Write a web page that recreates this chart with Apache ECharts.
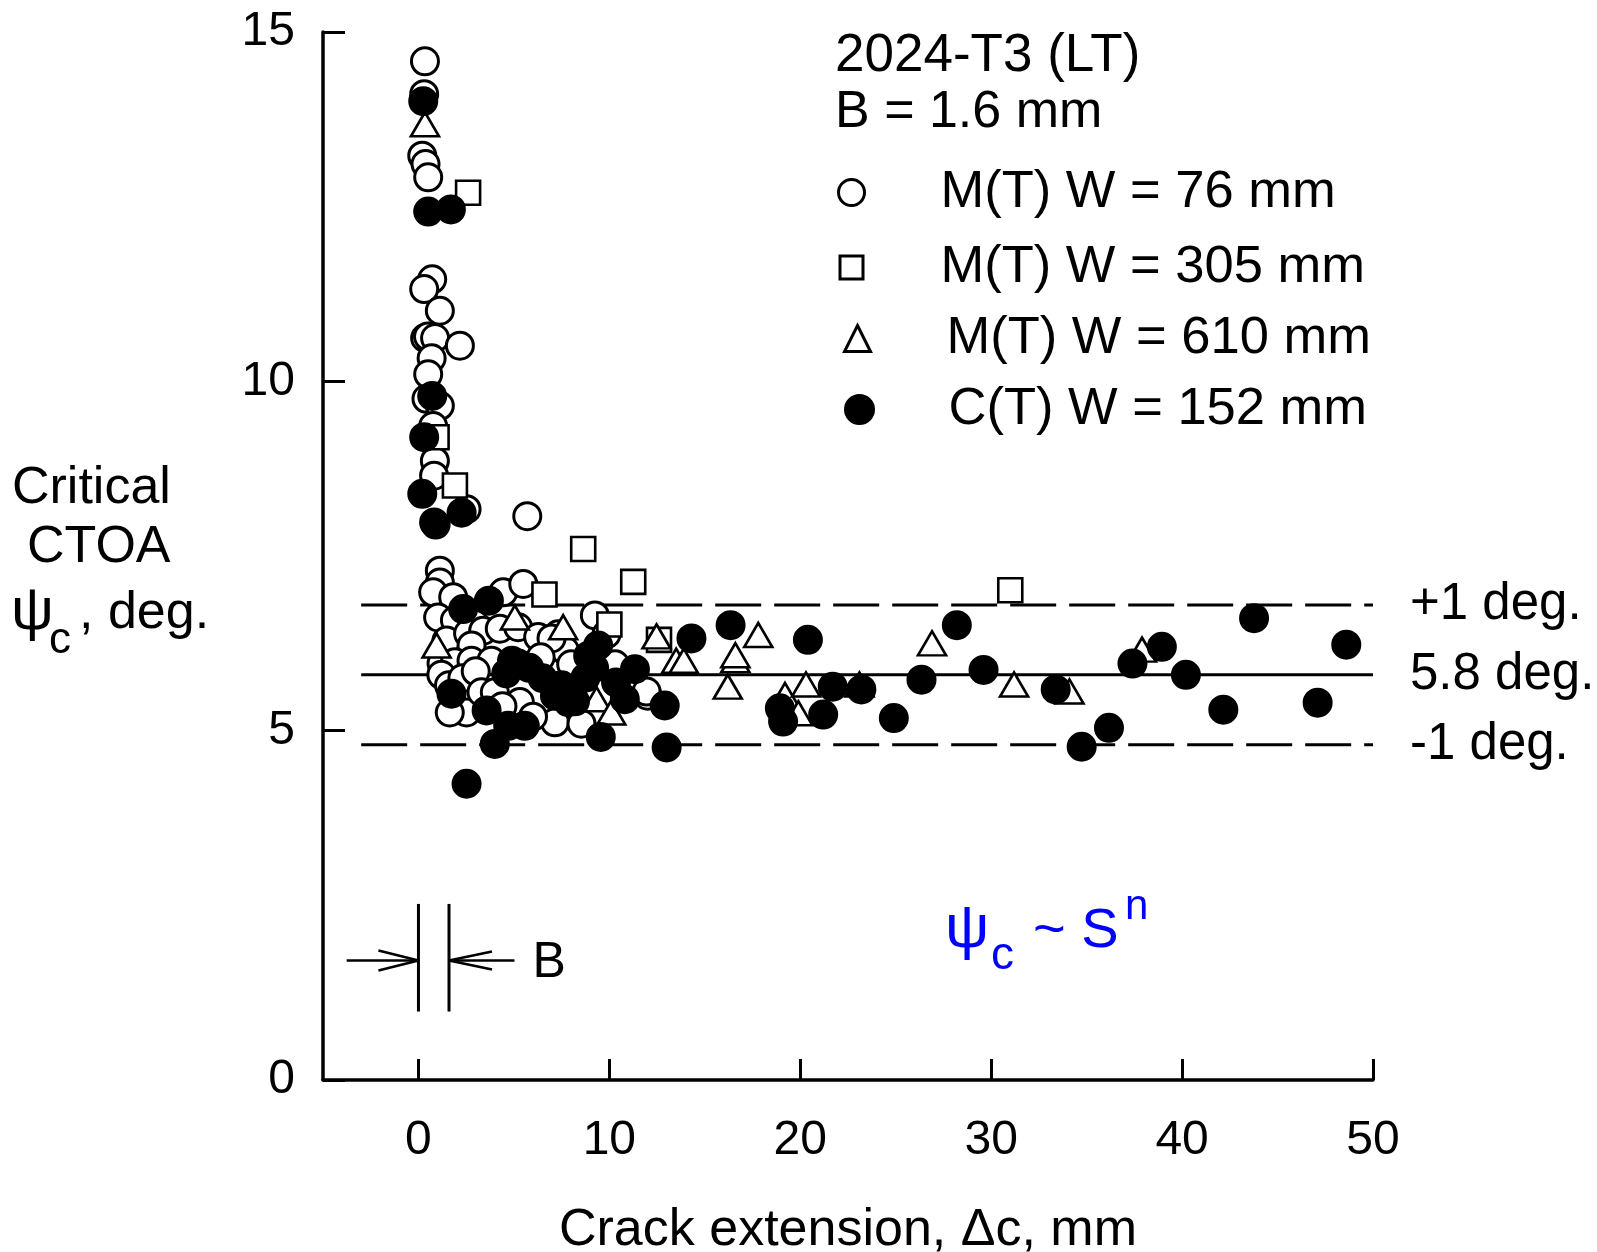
<!DOCTYPE html>
<html>
<head>
<meta charset="utf-8">
<script src="https://cdn.jsdelivr.net/npm/echarts@6/dist/echarts.min.js"></script>
<style>
  html, body { margin: 0; padding: 0; background: #fff; }
  #chart { width: 1597px; height: 1252px; }
</style>
</head>
<body>
<div id="chart"></div>
<script>
const FONT = '"Liberation Sans", Arial, sans-serif'

// [crack extension mm, critical CTOA deg]
const mt76 = [
  [0.34,14.58],[0.30,14.11],[0.20,13.23],[0.37,13.11],[0.51,12.92],
  [0.72,11.46],[0.30,11.32],[1.12,11.01],[0.35,10.62],[0.50,10.64],[0.87,10.62],[2.17,10.51],
  [0.69,10.33],[0.51,10.10],[0.42,9.75],[1.12,9.65],[0.77,9.36],[0.86,8.86],[0.82,8.65],
  [2.52,8.17],[0.90,7.95],[5.70,8.07],
  [1.12,7.29],[1.12,7.12],[0.77,6.98],[1.82,6.91],[4.44,6.98],[5.49,7.10],[1.03,6.62],[1.91,6.58],
  [2.95,6.53],[1.47,6.29],[2.60,6.39],[3.39,6.43],[4.26,6.46],[5.22,6.48],[6.27,6.34],[2.78,6.22],
  [1.21,5.96],[1.91,5.98],[2.78,6.00],[3.82,6.00],[9.24,6.65],[7.32,6.38],[7.67,6.15],[9.85,6.38],
  [6.97,6.32],[2.52,5.26],[1.64,5.26],[5.31,5.41],[7.15,5.12],[8.54,5.10],[12.00,5.50],[1.20,5.80],
  [1.60,5.65],[2.30,5.75],[3.00,5.85],[3.30,5.55],[4.00,5.55],[4.40,5.35],[6.40,6.05],[8.00,5.95],
  [10.30,5.95],[11.95,5.56],[6.00,5.20]
]
const mt305 = [
  [2.60,12.70],[0.95,9.20],[1.91,8.51],[8.63,7.60],[11.25,7.13],[6.60,6.95],[10.00,6.52],
  [12.60,6.30],[31.00,7.01]
]
const mt610 = [
  [0.34,13.68],[5.05,6.62],[0.95,6.22],[7.58,6.48],[12.47,6.35],[13.50,6.00],[13.90,6.00],
  [16.60,6.01],[16.60,6.08],[17.80,6.37],[16.20,5.63],[9.33,5.45],[10.10,5.26],[19.20,5.51],
  [19.90,5.25],[20.30,5.66],[23.10,5.66],[26.90,6.25],[31.20,5.66],[34.10,5.56],[37.90,6.16]
]
const ct152 = [
  [0.25,14.01],[0.51,12.43],[1.70,12.46],[0.72,9.79],[0.30,9.20],[0.20,8.39],[2.26,8.12],[0.82,7.98],
  [2.34,6.74],[3.69,6.86],[5.22,5.96],[9.41,6.22],[8.89,6.07],[11.34,5.88],[1.73,5.53],[3.57,5.29],
  [4.00,4.81],[5.57,5.07],[4.70,5.07],[2.52,4.24],[12.90,5.36],[13.00,4.76],[9.55,4.91],[10.81,5.45],
  [7.84,5.41],[14.30,6.32],[4.90,6.00],[5.80,5.90],[7.15,5.50],[8.20,5.42],[8.75,5.76],[10.35,5.69],
  [4.60,5.82],[6.50,5.75],[7.50,5.65],[9.20,5.90],
  [16.35,6.51],[20.40,6.30],[18.93,5.32],[19.10,5.13],[21.70,5.63],[23.20,5.59],[21.20,5.23],
  [24.90,5.18],[26.35,5.73],[28.20,6.51],[29.60,5.87],[33.38,5.59],[34.74,4.77],[36.17,5.04],
  [37.40,5.96],[38.94,6.20],[40.20,5.80],[42.16,5.30],[43.77,6.61],[47.10,5.40],[48.60,6.23]
]

const xTicks = [0, 10, 20, 30, 40, 50]
const meanCTOA = 5.8
const bandWidth = 1
const lineSpan = [-3, 50]

// thickness marker "B"
const bEdges = [0, 1.6]
const bSpanY = [0.98, 2.52]
const bArrowY = 1.71
const bArrowTail = [-3.76, 5.03]

const names = ['M(T) W = 76 mm', 'M(T) W = 305 mm', 'M(T) W = 610 mm', 'C(T) W = 152 mm']

const hLine = (y, label, dashed) => ({
  type: 'line',
  data: [[lineSpan[0], y], [lineSpan[1], y]],
  symbol: 'none',
  silent: true,
  z: 1,
  lineStyle: { color: '#000', width: 3, type: dashed ? [46, 13] : 'solid' },
  endLabel: { show: true, formatter: label, distance: 37, fontSize: 51, fontFamily: FONT, color: '#000' }
})

// one legend per series so each entry can sit where the original puts it
const legendAt = (name, iconX, top, size, textX) => {
  const left = iconX - size / 2
  const pad = textX - (left + size + 5)
  return {
    data: [name], left: left, top: top, orient: 'vertical', padding: 0,
    itemWidth: size, itemHeight: size, selectedMode: false,
    itemStyle: { borderWidth: 3 },
    formatter: '{t|{name}}',
    textStyle: {
      color: '#000',
      rich: { t: { fontSize: 52.5, fontFamily: FONT, color: '#000', padding: [0, 0, 0, pad] } }
    }
  }
}

const option = {
  animation: false,
  backgroundColor: '#fff',
  grid: { left: 323, right: 224, top: 32, bottom: 172, outerBoundsMode: 'none' },
  legend: [
    legendAt(names[0], 850, 166, 26, 939),
    legendAt(names[1], 850, 241, 23, 939),
    legendAt(names[2], 856, 312, 26, 945),
    legendAt(names[3], 858, 383, 28, 947)
  ],
  xAxis: {
    type: 'value', min: -5, max: 50, interval: 5,
    name: 'Crack extension, \u0394c, mm', nameLocation: 'middle', nameGap: 125,
    nameTextStyle: { fontSize: 52, fontFamily: FONT, color: '#000' },
    axisLine: { lineStyle: { color: '#000', width: 3.5 } },
    axisTick: { inside: true, length: 21, customValues: xTicks, lineStyle: { color: '#000', width: 3 } },
    axisLabel: { customValues: xTicks, fontSize: 48, fontFamily: FONT, color: '#000', margin: 37 },
    splitLine: { show: false }
  },
  yAxis: {
    type: 'value', min: 0, max: 15, interval: 5,
    axisLine: { onZero: false, lineStyle: { color: '#000', width: 3.5 } },
    axisTick: { inside: true, length: 22, lineStyle: { color: '#000', width: 3 } },
    axisLabel: { fontSize: 48, fontFamily: FONT, color: '#000', margin: 28 },
    splitLine: { show: false }
  },
  series: [
    {
      name: names[0], type: 'scatter', data: mt76, symbol: 'circle', symbolSize: 27, z: 2,
      itemStyle: { color: '#fff', borderColor: '#000', borderWidth: 3, opacity: 1 }
    },
    hLine(meanCTOA + bandWidth, '+1 deg.', true),
    hLine(meanCTOA, '5.8 deg.', false),
    hLine(meanCTOA - bandWidth, '-1 deg.', true),
    {
      name: names[1], type: 'scatter', data: mt305, symbol: 'rect', symbolSize: 24, z: 3,
      itemStyle: { color: '#fff', borderColor: '#000', borderWidth: 2.6, opacity: 1 }
    },
    {
      name: names[2], type: 'scatter', data: mt610, symbol: 'triangle', symbolSize: [28, 24], z: 3,
      itemStyle: { color: '#fff', borderColor: '#000', borderWidth: 2.6, opacity: 1 }
    },
    {
      name: names[3], type: 'scatter', data: ct152, symbol: 'circle', symbolSize: 27, z: 4,
      itemStyle: { color: '#000', borderColor: '#000', borderWidth: 3, opacity: 1 }
    }
  ]
}

const chart = echarts.init(document.getElementById('chart'))
chart.setOption(option)

const px = (x, y) => chart.convertToPixel({ gridIndex: 0 }, [x, y])
const seg = (a, b, w) => ({
  type: 'line', silent: true,
  shape: { x1: a[0], y1: a[1], x2: b[0], y2: b[1] },
  style: { stroke: '#000', lineWidth: w }
})
const txt = (text, x, y, size, color) => ({
  type: 'text', silent: true, x: x, y: y,
  style: { text: text, fontSize: size, fontFamily: FONT, fill: color || '#000', align: 'left', verticalAlign: 'middle' }
})

const e0Top = px(bEdges[0], bSpanY[1]), e0Bot = px(bEdges[0], bSpanY[0])
const e1Top = px(bEdges[1], bSpanY[1]), e1Bot = px(bEdges[1], bSpanY[0])
const tipL = px(bEdges[0], bArrowY), tailL = px(bArrowTail[0], bArrowY)
const tipR = px(bEdges[1], bArrowY), tailR = px(bArrowTail[1], bArrowY)

chart.setOption({
  graphic: [
    seg(e0Top, e0Bot, 3),
    seg(e1Top, e1Bot, 3),
    seg(tailL, tipL, 2.5),
    seg([tipL[0] - 40, tipL[1] - 10], tipL, 2.5),
    seg([tipL[0] - 40, tipL[1] + 10], tipL, 2.5),
    seg(tailR, tipR, 2.5),
    seg([tipR[0] + 43, tipR[1] - 9], tipR, 2.5),
    seg([tipR[0] + 43, tipR[1] + 9], tipR, 2.5),
    txt('B', tailR[0] + 18, tipR[1] + 3, 50),

    // y axis title
    txt('Critical', 12, 489, 52),
    txt('CTOA', 27, 548, 52),
    txt('\u03c8', 11, 612, 60),
    txt('c', 49, 641, 44),
    txt(', deg.', 79, 614, 52),

    // specimen info
    txt('2024-T3 (LT)', 835, 56, 53),
    txt('B = 1.6 mm', 835, 113, 52),

    // scaling note
    txt('\u03c8', 945, 930, 62, '#0000ff'),
    txt('c', 991, 956, 46, '#0000ff'),
    txt('~ S', 1033, 932, 56, '#0000ff'),
    txt('n', 1125, 907, 42, '#0000ff')
  ]
})
</script>
</body>
</html>
